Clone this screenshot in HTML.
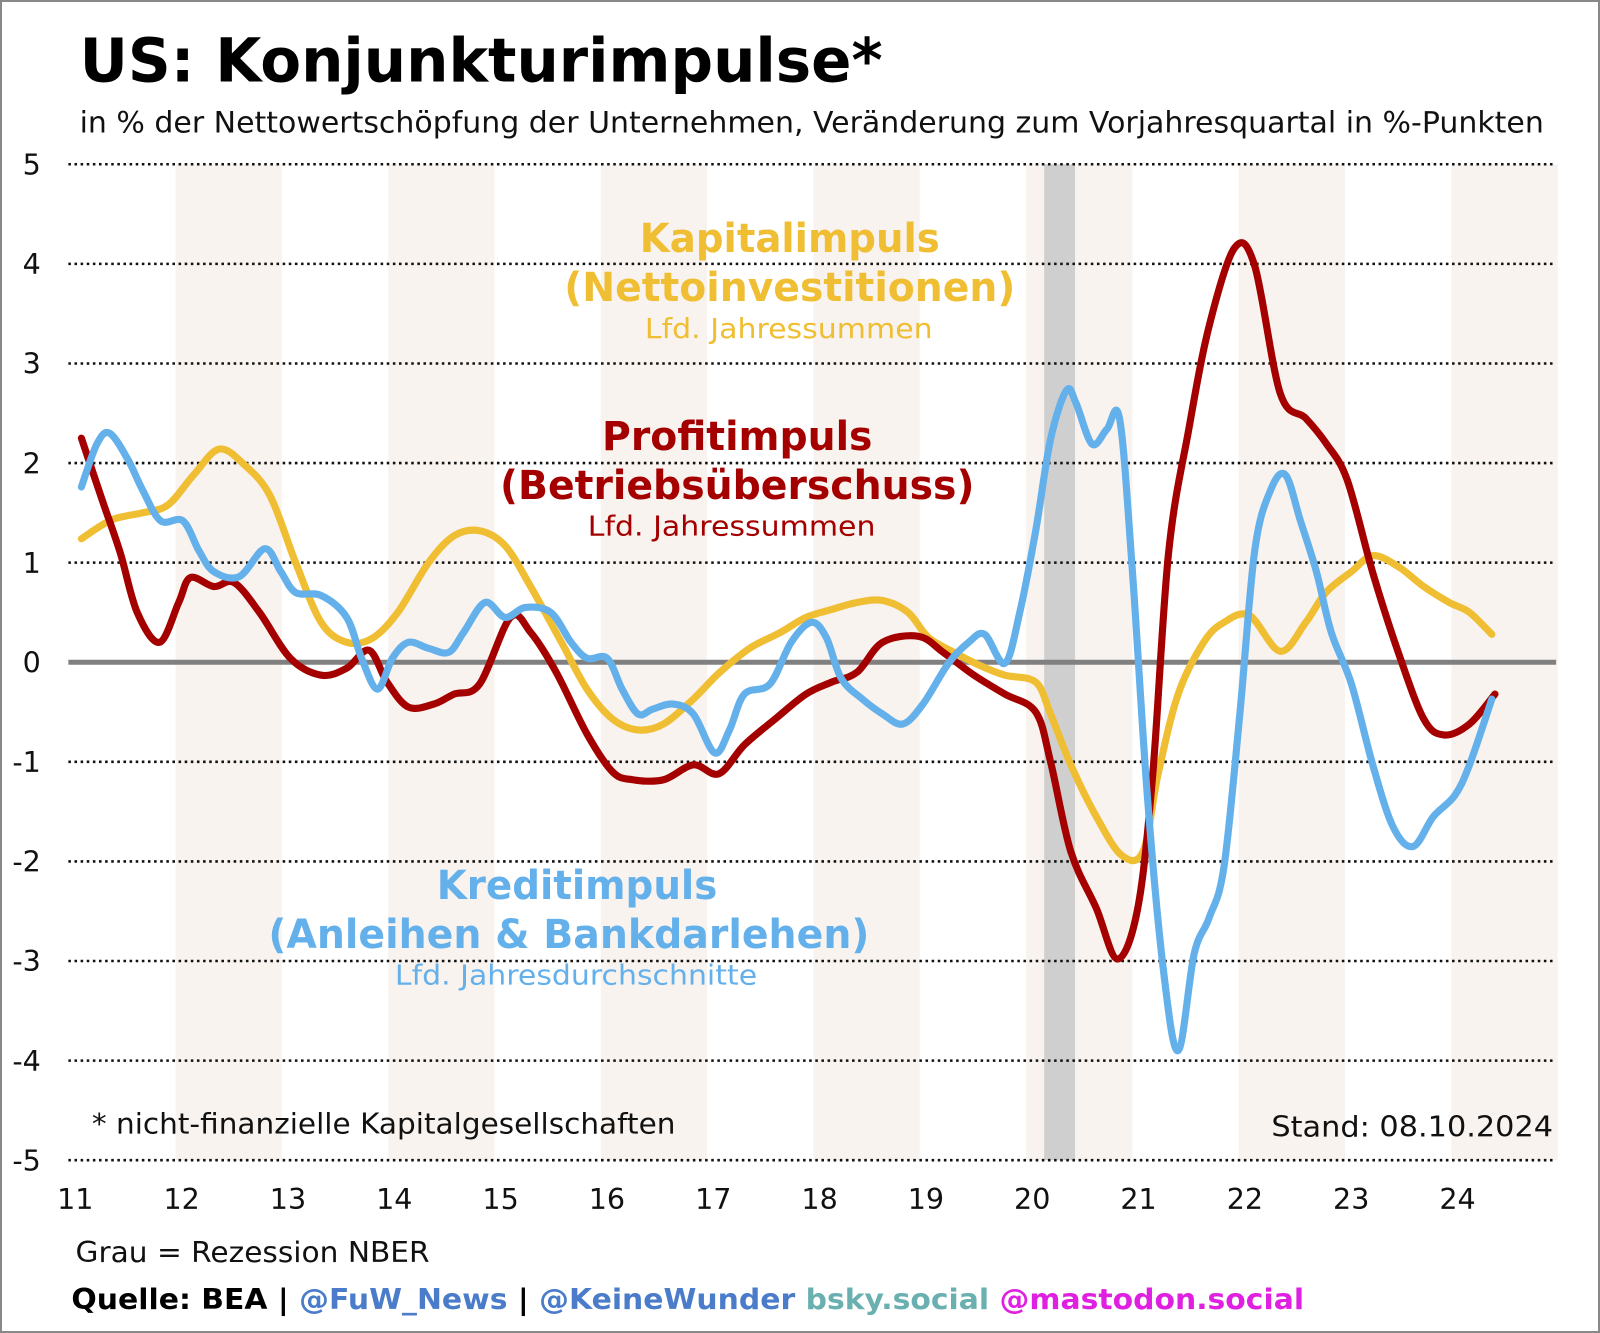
<!DOCTYPE html>
<html><head><meta charset="utf-8"><style>
body{margin:0;background:#fff}
svg{display:block;font-family:"DejaVu Sans","Liberation Sans",sans-serif}
</style></head><body>
<svg id="chart" width="1600" height="1333" viewBox="0 0 1600 1333">
<rect x="1" y="1" width="1598" height="1331" fill="#fff" stroke="#888" stroke-width="2"/>
<g transform="scale(1.0204)">
<g id="bands"></g><g id="grid"></g><g id="series"></g>
<text x="78" y="80" font-size="59" font-weight="bold" fill="#000" textLength="787" lengthAdjust="spacingAndGlyphs">US: Konjunkturimpulse*</text>
<text x="78" y="130" font-size="29" fill="#111" textLength="1435" lengthAdjust="spacingAndGlyphs">in % der Nettowertschöpfung der Unternehmen, Veränderung zum Vorjahresquartal in %-Punkten</text>
<g font-weight="bold">
<text x="627" y="247" font-size="39" fill="#f0be32" textLength="294" lengthAdjust="spacingAndGlyphs">Kapitalimpuls</text>
<text x="553" y="295" font-size="39" fill="#f0be32" textLength="442" lengthAdjust="spacingAndGlyphs">(Nettoinvestitionen)</text>
<text x="632" y="331" font-size="27" font-weight="normal" fill="#f0be32" textLength="282" lengthAdjust="spacingAndGlyphs">Lfd. Jahressummen</text></g>
<g font-weight="bold">
<text x="590" y="441" font-size="39" fill="#a50000" textLength="265" lengthAdjust="spacingAndGlyphs">Profitimpuls</text>
<text x="490" y="489" font-size="39" fill="#a50000" textLength="465" lengthAdjust="spacingAndGlyphs">(Betriebsüberschuss)</text>
<text x="576" y="525" font-size="27" font-weight="normal" fill="#a50000" textLength="282" lengthAdjust="spacingAndGlyphs">Lfd. Jahressummen</text></g>
<g font-weight="bold">
<text x="428" y="881" font-size="39" fill="#64b0eb" textLength="275" lengthAdjust="spacingAndGlyphs">Kreditimpuls</text>
<text x="263" y="929" font-size="39" fill="#64b0eb" textLength="589" lengthAdjust="spacingAndGlyphs">(Anleihen &amp; Bankdarlehen)</text>
<text x="387" y="965" font-size="27" font-weight="normal" fill="#64b0eb" textLength="355" lengthAdjust="spacingAndGlyphs">Lfd. Jahresdurchschnitte</text></g>
<text x="90" y="1111" font-size="28" fill="#111" textLength="572" lengthAdjust="spacingAndGlyphs">* nicht-finanzielle Kapitalgesellschaften</text>
<text x="1246" y="1114" font-size="28" fill="#111" textLength="276" lengthAdjust="spacingAndGlyphs">Stand: 08.10.2024</text>
<text x="74" y="1237" font-size="28" fill="#111" textLength="347" lengthAdjust="spacingAndGlyphs">Grau = Rezession NBER</text>
<text x="70" y="1283" font-size="28" font-weight="bold" textLength="1208" lengthAdjust="spacingAndGlyphs"><tspan fill="#000">Quelle: BEA | </tspan><tspan fill="#4a7cc9">@FuW_News</tspan><tspan fill="#000"> | </tspan><tspan fill="#4a7cc9">@KeineWunder</tspan><tspan fill="#6ab0b0"> bsky.social</tspan><tspan fill="#e020e0"> @mastodon.social</tspan></text>
</g>
</svg>
<script>
const yTicks=[5,4,3,2,1,0,-1,-2,-3,-4,-5];
const years=[11,12,13,14,15,16,17,18,19,20,21,22,23,24];
const recession=[9.17,9.46];
const redT=[0.115,0.31,0.48,0.64,0.85,1.03,1.14,1.36,1.55,1.79,2.08,2.37,2.61,2.82,2.99,3.19,3.43,3.62,3.86,4.15,4.34,4.58,4.87,5.11,5.30,5.59,5.87,6.11,6.35,6.64,6.93,7.17,7.41,7.65,7.99,8.22,8.51,8.80,9.09,9.23,9.42,9.66,9.86,10.05,10.19,10.34,10.53,10.72,10.96,11.15,11.39,11.63,11.82,12.02,12.26,12.50,12.74,12.93,13.17,13.41];
const redV=[2.25,1.63,1.1,0.5,0.2,0.6,0.85,0.76,0.8,0.5,0.04,-0.13,-0.06,0.12,-0.2,-0.45,-0.42,-0.32,-0.22,0.45,0.3,-0.1,-0.72,-1.1,-1.18,-1.18,-1.03,-1.12,-0.83,-0.57,-0.32,-0.2,-0.1,0.2,0.26,0.1,-0.13,-0.32,-0.5,-1.0,-1.9,-2.47,-2.98,-2.47,-1.14,1.1,2.34,3.37,4.16,3.98,2.7,2.45,2.2,1.83,0.9,0.1,-0.57,-0.73,-0.62,-0.32];
const yelT=[0.115,0.40,0.69,0.93,1.17,1.41,1.65,1.89,2.13,2.37,2.61,2.85,3.09,3.38,3.62,3.86,4.10,4.34,4.63,4.87,5.11,5.35,5.59,5.87,6.11,6.40,6.69,6.93,7.17,7.41,7.65,7.89,8.08,8.32,8.56,8.80,9.09,9.23,9.42,9.66,9.90,10.10,10.24,10.43,10.67,10.86,11.10,11.39,11.63,11.82,12.06,12.26,12.50,12.74,12.98,13.17,13.38];
const yelV=[1.24,1.43,1.5,1.58,1.88,2.14,1.98,1.67,1.0,0.4,0.2,0.24,0.5,1.0,1.27,1.32,1.17,0.76,0.2,-0.27,-0.57,-0.68,-0.62,-0.37,-0.11,0.14,0.3,0.45,0.53,0.6,0.62,0.5,0.25,0.1,-0.03,-0.13,-0.2,-0.52,-1.03,-1.55,-1.94,-1.9,-1.13,-0.32,0.2,0.4,0.47,0.11,0.4,0.7,0.91,1.07,0.96,0.76,0.6,0.5,0.28];
const bluT=[0.115,0.26,0.38,0.55,0.69,0.86,1.07,1.22,1.36,1.60,1.84,1.99,2.13,2.37,2.61,2.75,2.90,3.04,3.19,3.38,3.57,3.71,3.91,4.10,4.29,4.53,4.72,4.87,5.06,5.20,5.35,5.49,5.68,5.87,6.07,6.21,6.35,6.59,6.79,6.98,7.12,7.26,7.46,7.65,7.84,8.03,8.27,8.46,8.61,8.80,8.94,9.09,9.23,9.38,9.47,9.62,9.76,9.88,10.0,10.14,10.29,10.43,10.58,10.72,10.86,11.01,11.15,11.30,11.44,11.58,11.73,11.87,12.06,12.26,12.45,12.64,12.83,13.03,13.17,13.38];
const bluV=[1.76,2.19,2.3,2.04,1.73,1.42,1.42,1.12,0.91,0.86,1.14,0.91,0.7,0.67,0.45,0.04,-0.27,0.04,0.2,0.14,0.1,0.3,0.6,0.45,0.55,0.5,0.2,0.04,0.04,-0.27,-0.52,-0.47,-0.42,-0.52,-0.91,-0.68,-0.32,-0.22,0.2,0.4,0.25,-0.16,-0.37,-0.52,-0.62,-0.42,-0.01,0.2,0.28,-0.01,0.5,1.32,2.24,2.73,2.6,2.19,2.34,2.44,0.91,-1.34,-3.08,-3.9,-2.93,-2.57,-2.06,-0.52,1.12,1.73,1.88,1.42,0.91,0.3,-0.22,-1.03,-1.65,-1.85,-1.55,-1.34,-1.03,-0.37];
const NS='http://www.w3.org/2000/svg';
const X0=67.8,PX=104.2,Y0=649,PY=97.6;
const xs=t=>X0+t*PX, ys=v=>Y0-v*PY;
function mk(tag,attrs,parent){const e=document.createElementNS(NS,tag);for(const k in attrs)e.setAttribute(k,attrs[k]);parent.appendChild(e);return e;}
const bands=document.getElementById('bands'),grid=document.getElementById('grid'),ser=document.getElementById('series');
years.forEach((yr,i)=>{
  if(i%2===1){const r=mk('rect',{x:xs(i),y:161,width:PX,height:976,fill:'#f8f3ef'},bands);
    
    }
  const t=mk('text',{x:xs(i)+6,y:1185,'font-size':28,'text-anchor':'middle',fill:'#111'},grid);t.textContent=yr;
  
  
});
const rec=mk('rect',{x:xs(recession[0]),y:161,width:xs(recession[1])-xs(recession[0]),height:976,fill:'#cfcfcf'},bands);


yTicks.forEach(v=>{
  const l=mk('line',{x1:67,x2:1525,y1:ys(v),y2:ys(v),stroke:v===0?'#808080':'#111','stroke-width':v===0?5:2.5,'stroke-dasharray':v===0?'':'2.5 3.5'},grid);
  
  
  const t=mk('text',{x:40,y:ys(v)+10,'font-size':28,'text-anchor':'end',fill:'#111'},grid);t.textContent=v;
  
  
});
function path(T,V){const p=T.map((t,i)=>[xs(t),ys(V[i])]);let d='M'+p[0][0]+','+p[0][1];
  for(let i=0;i<p.length-1;i++){const a=p[Math.max(0,i-1)],b=p[i],c=p[i+1],e=p[Math.min(p.length-1,i+2)];
    d+=` C${b[0]+(c[0]-a[0])/6},${b[1]+(c[1]-a[1])/6} ${c[0]-(e[0]-b[0])/6},${c[1]-(e[1]-b[1])/6} ${c[0]},${c[1]}`;}return d;}
const s1=mk('path',{d:path(yelT,yelV),fill:'none',stroke:'#f0be32','stroke-width':7,'stroke-linecap':'round','stroke-linejoin':'round'},ser);


const s2=mk('path',{d:path(redT,redV),fill:'none',stroke:'#a50000','stroke-width':7,'stroke-linecap':'round','stroke-linejoin':'round'},ser);


const s3=mk('path',{d:path(bluT,bluV),fill:'none',stroke:'#64b0eb','stroke-width':7,'stroke-linecap':'round','stroke-linejoin':'round'},ser);


</script>
</body></html>
